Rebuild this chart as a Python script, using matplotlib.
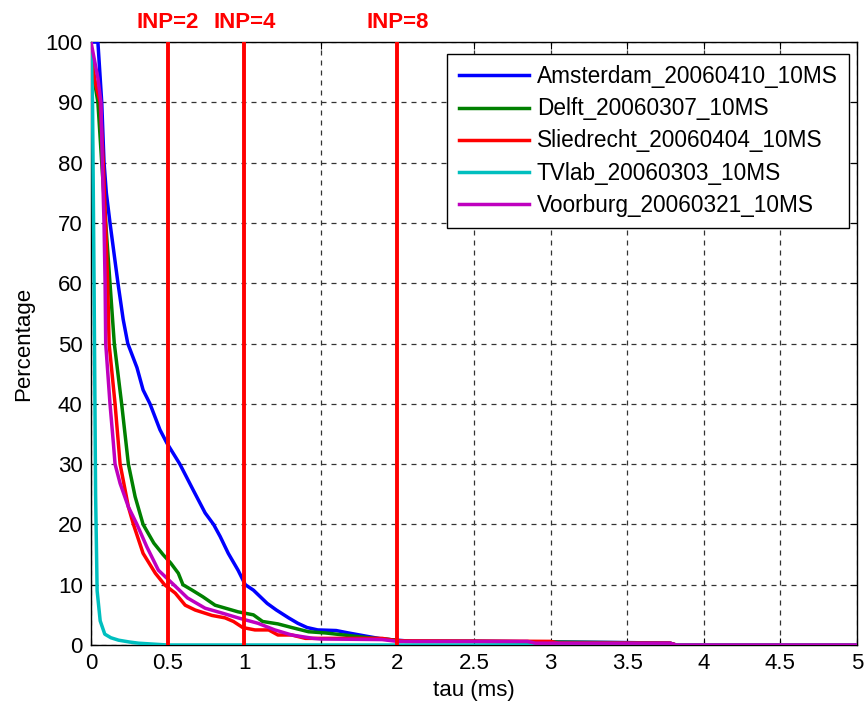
import matplotlib
matplotlib.use("Agg")
import matplotlib.pyplot as plt

plt.rcParams['font.family'] = ['Liberation Sans', 'DejaVu Sans']

# ---- data ----
ams_x = [0, 0.045, 0.07, 0.085, 0.10, 0.124, 0.15, 0.176, 0.21, 0.24, 0.27, 0.30, 0.34, 0.385, 0.45, 0.495,
         0.58, 0.667, 0.745, 0.80, 0.843, 0.896, 0.96, 1.007, 1.06, 1.15, 1.21, 1.29, 1.35, 1.41, 1.48, 1.6,
         1.68, 1.81, 1.9, 2.0, 2.1, 2.5, 3.0, 3.5, 3.78, 3.82, 5]
ams_y = [100, 100, 90, 80, 75, 70, 65, 60, 54, 50, 48, 46, 42.3, 40, 35.7, 33.5,
         30, 25.7, 21.9, 20, 18, 15.2, 12.4, 10, 9.1, 6.9, 5.8, 4.5, 3.6, 2.9, 2.5, 2.4,
         2.0, 1.4, 1.0, 0.8, 0.6, 0.6, 0.5, 0.4, 0.3, 0, 0]

delft_x = [0, 0.045, 0.07, 0.096, 0.124, 0.152, 0.20, 0.244, 0.288, 0.34, 0.41, 0.47, 0.52, 0.57, 0.60, 0.66,
           0.73, 0.81, 0.96, 1.06, 1.12, 1.22, 1.31, 1.42, 1.53, 1.65, 1.85, 1.95, 2.05, 2.5, 3.0, 3.78, 3.82, 5]
delft_y = [97, 90, 80, 70, 60, 50, 40, 30, 24.6, 20, 16.9, 15, 13.6, 11.9, 10, 9.1,
           8, 6.6, 5.5, 5.0, 3.9, 3.5, 2.9, 2.2, 2.0, 1.66, 1.1, 0.9, 0.6, 0.6, 0.5, 0.3, 0, 0]

slied_x = [0, 0.03, 0.06, 0.08, 0.095, 0.109, 0.118, 0.157, 0.19, 0.244, 0.277, 0.34, 0.42, 0.48, 0.55, 0.615,
           0.68, 0.79, 0.875, 0.93, 0.99, 1.07, 1.16, 1.22, 1.31, 1.4, 1.9, 2.0, 3.0, 3.05, 3.78, 3.82, 5]
slied_y = [98, 93, 90, 80, 70, 60, 50, 40, 30, 22.9, 20, 15.2, 11.9, 10, 8.6, 6.6,
           5.8, 4.9, 4.5, 3.9, 2.9, 2.5, 2.5, 1.66, 1.66, 1.1, 1.1, 0.7, 0.6, 0.3, 0.3, 0, 0]

tvlab_x = [0, 0.01, 0.02, 0.03, 0.04, 0.06, 0.09, 0.13, 0.18, 0.25, 0.31, 0.5, 5]
tvlab_y = [100, 90, 60, 25, 9, 4, 1.8, 1.2, 0.8, 0.5, 0.3, 0, 0]

voor_x = [0, 0.045, 0.065, 0.074, 0.085, 0.092, 0.096, 0.11, 0.124, 0.146, 0.157, 0.19, 0.244, 0.30, 0.364, 0.44,
          0.54, 0.63, 0.745, 0.855, 0.96, 1.09, 1.20, 1.31, 1.45, 1.5, 1.9, 2.0, 2.85, 2.9, 3.78, 3.82, 5]
voor_y = [100, 94, 90, 80, 70, 60, 50, 45, 40, 33.5, 30, 26.8, 22.9, 20, 16.3, 12.4,
          10, 7.8, 6.1, 5.3, 4.5, 3.6, 2.5, 1.66, 1.1, 1.0, 0.9, 0.6, 0.6, 0.3, 0.3, 0, 0]

labels = ['Amsterdam_20060410_10MS', 'Delft_20060307_10MS', 'Sliedrecht_20060404_10MS',
          'TVlab_20060303_10MS', 'Voorburg_20060321_10MS']
colors = ['#0000ff', '#008000', '#ff0000', '#00bfbf', '#bf00bf']

inp_x = [0.5, 1, 2]
inp_labels = ['INP=2', 'INP=4', 'INP=8']

xticks = [0, 0.5, 1, 1.5, 2, 2.5, 3, 3.5, 4, 4.5, 5]
xticklabels = ['0', '0.5', '1', '1.5', '2', '2.5', '3', '3.5', '4', '4.5', '5']
yticks = list(range(0, 101, 10))

# ---- figure ----
fig = plt.figure(figsize=(8.64, 7.07), dpi=100)
ax = fig.add_axes([91/864, 62/707, 766/864, 603/707])

series = [(ams_x, ams_y), (delft_x, delft_y), (slied_x, slied_y), (tvlab_x, tvlab_y), (voor_x, voor_y)]
handles = []
for (xs, ys), lab, c in zip(series, labels, colors):
    h, = ax.plot(xs, ys, color=c, lw=2.5, label=lab, zorder=3)
    handles.append(h)

for xv, lab in zip(inp_x, inp_labels):
    ax.axvline(xv, color='#ff0000', lw=2.8, zorder=4)
    ax.text(xv, 103.3, lab, color='#ff0000', fontsize=16, fontweight='bold',
            ha='center', va='center', clip_on=False)

ax.set_xlim(0, 5)
ax.set_ylim(0, 100)
ax.set_xticks(xticks)
ax.set_xticklabels(xticklabels)
ax.set_yticks(yticks)
ax.tick_params(direction='in', length=5, width=0.8, top=True, right=True, labelsize=16, pad=6)
ax.grid(True, color='#333333', linestyle=(0, (4, 4)), lw=0.9)
for s in ax.spines.values():
    s.set_linewidth(1.0)
    s.set_color('black')

ax.set_xlabel('tau (ms)', fontsize=16, labelpad=4)
ax.set_ylabel('Percentage', fontsize=16, labelpad=8)

leg = ax.legend(handles=handles, loc='upper right', bbox_to_anchor=(0.9896, 0.980),
                borderaxespad=0, prop={'size': 16.3}, frameon=True, fancybox=False,
                edgecolor='black', framealpha=1, handlelength=3.1, handletextpad=0.35,
                labelspacing=0.4, borderpad=0.5)
leg.get_frame().set_linewidth(1.0)
leg.set_zorder(10)

fig.savefig('out.png', dpi=100)
